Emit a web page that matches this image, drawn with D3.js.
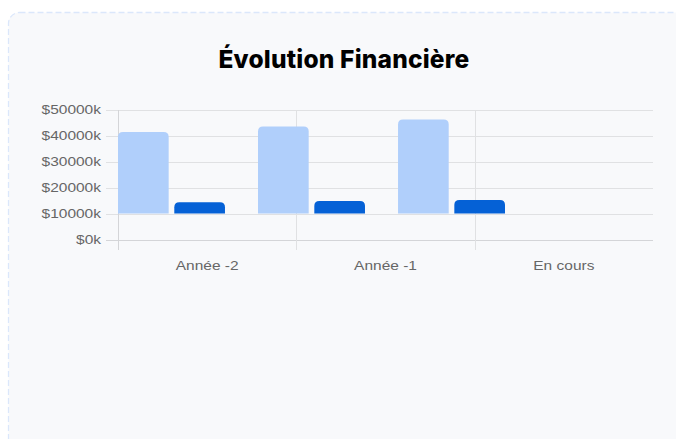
<!DOCTYPE html>
<html>
<head>
<meta charset="utf-8">
<script src="https://cdn.jsdelivr.net/npm/d3@7"></script>
<style>
  html, body { margin: 0; padding: 0; background: #fff; overflow: hidden; }
  text { font-family: "Liberation Sans", Arial, sans-serif; }
</style>
</head>
<body>
<div id="chart"></div>
<script>
// donnees (en milliers)
const categories = ["Année -2", "Année -1", "En cours"];
const barBase = 10000;
const revenus = [41500, 43700, 46300];
const depenses = [14500, 15000, 15400];
const yTicks = [0, 10000, 20000, 30000, 40000, 50000];
const seriesKeys = ["revenus", "depenses"];
const colors = ["#b0cffb", "#0561d6"];

const W = 676, H = 439;
const plot = {left: 118, right: 653, top: 110, bottom: 240};
const labelStretch = 1.24; // les libelles de l'original sont etires en largeur

const svg = d3.select("#chart").append("svg")
    .attr("width", W)
    .attr("height", H);

// carte
svg.append("rect")
    .attr("x", 8.5).attr("y", 12.5)
    .attr("width", 690).attr("height", 450)
    .attr("rx", 11)
    .attr("fill", "#f8f9fb")
    .attr("stroke", "#dbe7fb")
    .attr("stroke-width", 1.3)
    .attr("stroke-dasharray", "6,3");

svg.append("text")
    .attr("x", 344).attr("y", 68)
    .attr("text-anchor", "middle")
    .style("font-family", "Inter, 'Noto Sans', sans-serif")
    .style("font-weight", 800)
    .style("font-size", "24.5px")
    .style("letter-spacing", "0.2px")
    .attr("fill", "#000")
    .text("Évolution Financière");

const y = d3.scaleLinear()
    .domain([0, 50000])
    .range([plot.bottom, plot.top]);

// echelle des libelles (grille)
const xLabel = d3.scaleBand()
    .domain(categories)
    .range([plot.left, plot.right]);

// echelle des barres (decalee comme sur l'original)
const xBar = d3.scaleBand()
    .domain(categories)
    .range([plot.left, 505])
    .paddingInner(0.236)
    .paddingOuter(0);

const xSub = d3.scaleBand()
    .domain(seriesKeys)
    .range([0, xBar.bandwidth()])
    .paddingInner(0.1);

const gridColor = "#e0e1e3";

// lignes horizontales + graduations
svg.append("g").selectAll("line")
    .data(yTicks)
    .enter().append("line")
    .attr("x1", plot.left - 12).attr("x2", plot.right)
    .attr("y1", d => Math.round(y(d)) + 0.5)
    .attr("y2", d => Math.round(y(d)) + 0.5)
    .attr("stroke", d => d === 0 ? "#d4d5d8" : gridColor)
    .attr("stroke-width", 1);

svg.append("g").selectAll("text")
    .data(yTicks)
    .enter().append("text")
    .attr("transform", d => "translate(101," + y(d) + ") scale(" + labelStretch + ",1)")
    .attr("dy", "0.35em")
    .attr("text-anchor", "end")
    .style("font-size", "12.5px")
    .attr("fill", "#666")
    .text(d => "$" + d / 1000 * 1000 + "k");

// lignes verticales
const vLines = [plot.left].concat(categories.slice(1).map(c => xLabel(c)));
svg.append("g").selectAll("line")
    .data(vLines)
    .enter().append("line")
    .attr("x1", d => Math.round(d) + 0.5).attr("x2", d => Math.round(d) + 0.5)
    .attr("y1", plot.top).attr("y2", plot.bottom + 10)
    .attr("stroke", (d, i) => i === 0 ? "#d4d5d8" : gridColor);

svg.append("g").selectAll("text")
    .data(categories)
    .enter().append("text")
    .attr("transform", d => "translate(" + (xLabel(d) + xLabel.bandwidth() / 2) + ",270) scale(" + labelStretch + ",1)")
    .attr("text-anchor", "middle")
    .style("font-size", "12.5px")
    .attr("fill", "#666")
    .text(d => d);

// barres a coins arrondis en haut
function topRounded(x, yTop, w, h, r) {
    r = Math.min(r, h, w / 2);
    return "M" + x + "," + (yTop + h) +
        "V" + (yTop + r) +
        "Q" + x + "," + yTop + " " + (x + r) + "," + yTop +
        "H" + (x + w - r) +
        "Q" + (x + w) + "," + yTop + " " + (x + w) + "," + (yTop + r) +
        "V" + (yTop + h) + "Z";
}

const rows = categories.map((c, i) => ({cat: c, revenus: revenus[i], depenses: depenses[i]}));

const groups = svg.append("g").selectAll("g")
    .data(rows)
    .enter().append("g")
    .attr("transform", d => "translate(" + xBar(d.cat) + ",0)");

groups.selectAll("path")
    .data(d => seriesKeys.map((k, j) => ({key: k, value: d[k], color: colors[j]})))
    .enter().append("path")
    .attr("d", d => topRounded(xSub(d.key), y(d.value), xSub.bandwidth(), y(barBase) - 0.5 - y(d.value), 5))
    .attr("fill", d => d.color);
</script>
</body>
</html>
